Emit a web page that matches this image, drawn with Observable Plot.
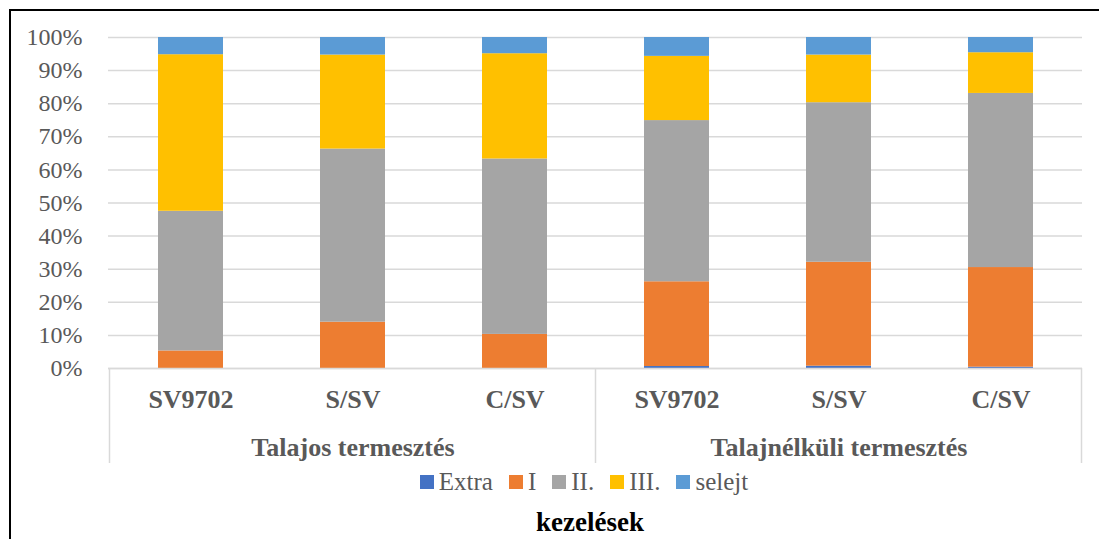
<!DOCTYPE html>
<html>
<head>
<meta charset="utf-8">
<script src="https://cdn.jsdelivr.net/npm/d3@7"></script>
<script src="https://cdn.jsdelivr.net/npm/@observablehq/plot@0.6"></script>
<style>
  html, body { margin: 0; padding: 0; background: #fff; }
  #wrap { position: relative; width: 1099px; height: 539px; overflow: hidden; font-family: "Liberation Serif", "Times New Roman", serif; background: #fff; }
  #frame { position: absolute; left: 9px; top: 9px; width: 1200px; height: 600px; border-left: 2px solid #000; border-top: 2px solid #000; box-sizing: border-box; z-index: 5; pointer-events: none; }
  #chart { position: absolute; left: 0; top: 0; }
  #chart svg, #chart svg text { font-family: "Liberation Serif", "Times New Roman", serif !important; }
  #legend { position: absolute; left: 0; top: 468px; width: 1168px; height: 28px; display: flex; justify-content: center; align-items: center; font-size: 25px; color: #595959; line-height: 28px; }
  #legend .item { display: flex; align-items: center; margin: 0 8px; }
  #legend .sw { width: 14px; height: 14px; margin-right: 5px; }
  #title { position: absolute; left: 0; top: 508px; width: 1180px; text-align: center; font-size: 27px; font-weight: bold; color: #000; line-height: 28px; }
</style>
</head>
<body>
<div id="wrap">
  <div id="chart"></div>
  <div id="legend"></div>
  <div id="title"></div>
  <div id="frame"></div>
</div>
<script>
const groups = ["Talajos termesztés", "Talajnélküli termesztés"];
const categories = ["SV9702", "S/SV", "C/SV"];
const grades = ["Extra", "I", "II.", "III.", "selejt"];
const gradeColors = ["#4472C4", "#ED7D31", "#A5A5A5", "#FFC000", "#5B9BD5"];
const yTicks = [0, 0.1, 0.2, 0.3, 0.4, 0.5, 0.6, 0.7, 0.8, 0.9, 1.0];
const axisTitle = "kezelések";

// shares (%) per bar, order: Talajos SV9702, S/SV, C/SV, Talajnélküli SV9702, S/SV, C/SV
const extraValues  = [0.0, 0.0, 0.0, 0.6, 0.7, 0.4];
const iValues      = [5.3, 14.0, 10.3, 25.6, 31.4, 30.1];
const iiValues     = [42.2, 52.3, 53.0, 48.7, 48.2, 52.6];
const iiiValues    = [47.3, 28.4, 31.8, 19.4, 14.4, 12.3];
const selejtValues = [5.2, 5.3, 4.9, 5.7, 5.3, 4.6];

const seriesValues = [extraValues, iValues, iiValues, iiiValues, selejtValues];

const keys = [];
groups.forEach(g => categories.forEach(c => keys.push(g + "|" + c)));

const data = [];
keys.forEach((k, i) => {
  grades.forEach((gr, j) => {
    data.push({key: k, grade: gr, value: seriesValues[j][i] / 100});
  });
});

const catLabels = keys.map(k => ({key: k, label: k.split("|")[1]}));
const groupLabels = groups.map((g, gi) => ({key: keys[gi * categories.length + 1], label: g}));
const separators = [
  {key: keys[0], side: -1},
  {key: keys[categories.length], side: -1},
  {key: keys[keys.length - 1], side: 1}
];

const FONT = "Liberation Serif, Times New Roman, serif";
const W = 1099, H = 466, mL = 108, mR = 17, mT = 37, mB = 98;

const chart = Plot.plot({
  width: W,
  height: H,
  marginLeft: mL,
  marginRight: mR,
  marginTop: mT,
  marginBottom: mB,
  style: {fontFamily: FONT, background: "transparent", overflow: "visible"},
  x: {type: "band", domain: keys, paddingInner: 0.6, paddingOuter: 0.3, axis: null},
  y: {domain: [0, 1], axis: null},
  color: {domain: grades, range: gradeColors},
  marks: [
    Plot.gridY(yTicks, {stroke: "#d9d9d9", strokeOpacity: 1, strokeWidth: 1.5}),
    Plot.axisY(yTicks, {
      tickSize: 0, tickPadding: 26, fontSize: 24, fill: "#595959", fontFamily: FONT,
      tickFormat: d => Math.round(d * 100) + "%", label: null
    }),
    Plot.barY(data, {x: "key", y: "value", fill: "grade", order: grades}),
    Plot.ruleY([0], {stroke: "#d9d9d9", strokeWidth: 1.5}),
    Plot.ruleX(separators, {
      x: "key",
      render(index, scales, values, dimensions) {
        const x = scales.x;
        const bw = x.bandwidth();
        const step = x.step ? x.step() : bw / 0.4;
        const y0 = scales.y(0);
        const g = d3.create("svg:g");
        for (const i of index) {
          const d = separators[i];
          const px = d.side < 0 ? x(d.key) - (step - bw) / 2 : x(d.key) + bw + (step - bw) / 2;
          g.append("line")
            .attr("x1", px).attr("x2", px)
            .attr("y1", y0).attr("y2", y0 + 95)
            .attr("stroke", "#d9d9d9").attr("stroke-width", 1.5);
        }
        return g.node();
      }
    }),
    Plot.text(catLabels, {
      x: "key", text: "label", frameAnchor: "bottom", lineAnchor: "top", dy: 21,
      fontSize: 26, fontWeight: "bold", fill: "#595959", fontFamily: FONT
    }),
    Plot.text(groupLabels, {
      x: "key", text: "label", frameAnchor: "bottom", lineAnchor: "top", dy: 69,
      fontSize: 26, fontWeight: "bold", fill: "#595959", fontFamily: FONT
    })
  ]
});
document.getElementById("chart").appendChild(chart);

const legend = document.getElementById("legend");
grades.forEach((g, i) => {
  const it = document.createElement("div");
  it.className = "item";
  const sw = document.createElement("div");
  sw.className = "sw";
  sw.style.background = gradeColors[i];
  const t = document.createElement("span");
  t.textContent = g;
  it.appendChild(sw);
  it.appendChild(t);
  legend.appendChild(it);
});
document.getElementById("title").textContent = axisTitle;
</script>
</body>
</html>
